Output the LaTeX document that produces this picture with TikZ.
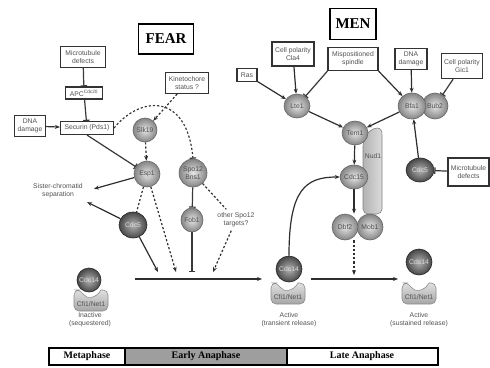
\documentclass[tikz,border=0pt]{standalone}
\usepackage{fontspec}
\setmainfont{Liberation Serif}
\setsansfont{Liberation Sans}
\usetikzlibrary{arrows.meta,shapes.geometric,calc}

\begin{document}
\begin{tikzpicture}[x=1pt,y=-1pt,
  lbl/.style={font=\sffamily\fontsize{6.8}{8}\selectfont, text=black!68, align=center},
  box/.style={lbl, draw=black!80, line width=1.1pt, fill=white, inner sep=1pt},
  prot/.style={ellipse, draw=black!60, line width=0.6pt, inner color=black!10, outer color=black!48,
    inner sep=0pt, font=\sffamily\fontsize{6.8}{7.4}\selectfont, text=black!70, align=center},
  darkprot/.style={prot, draw=black!85, inner color=black!30, outer color=black!72, text=white!85!black},
  title/.style={draw=black, line width=1.4pt, fill=white, font=\bfseries\fontsize{15}{15}\selectfont, inner sep=0pt},
  phasetxt/.style={font=\bfseries\fontsize{10}{10}\selectfont},
  act/.style={-{Stealth[length=5pt,width=4pt]}, line width=1.2pt, draw=black!82},
  inh/.style={-{Bar[width=6.5pt,line width=1.2pt]}, line width=1.2pt, draw=black!78},
  dsh/.style={dash pattern=on 2.2pt off 2pt},
  dline/.style={dsh, line width=1.2pt, draw=black!80},
  cfinet/.pic={
    \path[draw=black!45, line width=0.6pt, top color=black!12, bottom color=black!35]
      (0,21) [rounded corners=5pt] -- (-17,21) -- (-17,0) -- (-10,0) [sharp corners]
      .. controls (-5,9) and (5,9) .. (10,0) [rounded corners=5pt] -- (17,0) -- (17,21) -- cycle;
    \node[lbl] (-lab) at (0,14) {Cfi1/Net1};
  },
]
\useasboundingbox (0,0) rectangle (490,367);

% ---------- titles ----------
\node[title, minimum width=55pt, minimum height=30pt] (fear) at (166,39) {FEAR};
\node[title, minimum width=46pt, minimum height=31pt] (men) at (353,24) {MEN};

% ---------- FEAR network ----------
\node[box, minimum width=45pt, minimum height=21pt] (mtdA) at (83,57) {Microtubule\\defects};
\node[box, minimum width=37pt, minimum height=12pt] (apc) at (84,93) {APC\textsuperscript{Cdc20}};
\node[box, minimum width=31pt, minimum height=21pt] (dnaA) at (30,126) {DNA\\damage};
\node[box, minimum width=53pt, minimum height=13pt] (sec) at (87,128) {Securin (Pds1)};
\node[box, minimum width=43pt, minimum height=21pt] (kin) at (187,83) {Kinetochore\\status ?};

\node[prot, minimum width=22pt, minimum height=24pt] (slk) at (145,130) {Slk19};
\node[prot, minimum width=26pt, minimum height=26pt] (esp) at (147,174) {Esp1};
\node[prot, minimum width=28pt, minimum height=28pt] (spo) at (193,173) {Spo12\\Bns1};
\node[darkprot, minimum width=28pt, minimum height=26pt] (cdcA) at (133,225) {Cdc5};
\node[prot, minimum width=22pt, minimum height=24pt] (fob) at (192,220) {Fob1};
\node[lbl] (oth) at (236,220) {other Spo12\\targets?};
\node[lbl] (sis) at (58,191) {Sister-chromatid\\separation};

% common line into Cdc14 release
\coordinate (l0) at (135,279);
\coordinate (l1) at (262,279);
\coordinate (t1) at (158,272);
\coordinate (t2) at (176,272);
\coordinate (t3) at (192,272);
\coordinate (t4) at (213,272);

\draw[inh] (mtdA) -- (apc);
\draw[inh] (apc) -- (sec);
\draw[act] (dnaA) -- (sec);
\draw[inh] (sec.south) -- (esp);
\draw[inh, dsh] (sec.east) .. controls (140,96) and (187,92) .. (spo.north);
\draw[act, dsh] (kin) -- (slk);
\draw[act, dsh] (slk) -- (esp);
\draw[act, shorten >=8pt] (esp) -- (sis.east);
\draw[act, shorten >=1pt] (cdcA) -- (sis.south east);
\draw[dline] (esp) -- (cdcA);
\draw[act, dsh] (esp) -- (t2);
\draw[act] (cdcA) -- (t1);
\draw[inh] (spo) -- (fob);
\draw[dline] (spo) -- (oth);
\draw[inh] (fob) -- (t3);
\draw[act, dsh] (oth) -- (t4);
\draw[act] (l0) -- (l1);

% ---------- MEN network ----------
\node[box, minimum width=20pt, minimum height=13pt] (ras) at (247,75) {Ras};
\node[box, minimum width=42pt, minimum height=24pt] (cla) at (293,54) {Cell polarity\\Cla4};
\node[box, minimum width=50pt, minimum height=23pt] (mis) at (353,59) {Mispositioned\\spindle};
\node[box, minimum width=32pt, minimum height=21pt] (dnaB) at (411,59) {DNA\\damage};
\node[box, minimum width=41pt, minimum height=25pt] (gic) at (462,66) {Cell polarity\\Gic1};
\node[box, minimum width=41pt, minimum height=28pt] (mtdB) at (468.5,172) {Microtubule\\defects};

% Nud1 scaffold
\path[draw=black!50, line width=0.6pt, left color=black!30, right color=black!14]
  (363,142) .. controls (366,134) and (372,128) .. (377,128)
  .. controls (381,128) and (382,131) .. (382,135)
  [rounded corners=5pt] -- (382,214) -- (363,214) -- cycle;
\node[lbl] (nud) at (373,156) {Nud1};

\node[prot, minimum width=26pt, minimum height=24pt] (lte) at (297,106) {Lte1};
\node[prot, minimum width=26pt, minimum height=26pt] (bub) at (435,106) {Bub2};
\node[prot, minimum width=28pt, minimum height=26pt] (bfa) at (412,106) {Bfa1};
\node[prot, minimum width=26pt, minimum height=24pt] (tem) at (355,133) {Tem1};
\node[prot, minimum width=26pt, minimum height=24pt] (cdcf) at (354,177) {Cdc15};
\node[prot, minimum width=26pt, minimum height=26pt] (mob) at (370,227) {Mob1};
\node[prot, minimum width=26pt, minimum height=26pt] (dbf) at (345,227) {Dbf2};
\node[darkprot, minimum width=28pt, minimum height=24pt] (cdcB) at (420,170) {Cdc5};

\coordinate (m1) at (354,275);

\draw[act] (ras) -- (lte);
\draw[act] (cla) -- (lte);
\draw[inh] (mis.south west) -- (lte);
\draw[act] (mis.south east) -- (bfa);
\draw[act] (dnaB) -- (bfa);
\draw[inh] (gic) -- (bub);
\draw[act] (lte) -- (tem);
\draw[act] (bfa) -- (tem);
\draw[act] (tem) -- (cdcf);
\draw[act] (cdcf) -- (cdcf |- dbf.north);
\draw[act, dsh] (cdcf |- dbf.south) -- (m1);
\draw[act] (cdcB) -- (bfa);
\draw[inh] (mtdB) -- (cdcB);

% ---------- Cdc14 states ----------
\pic (satA) at (91,290) {cfinet};
\node[darkprot, circle, minimum size=24pt] (ciA) at (89,280) {Cdc14};
\node[lbl] (inA) at (90,320) {Inactive\\(sequestered)};

\pic (satB) at (288,283) {cfinet};
\node[darkprot, circle, minimum size=26pt] (ciB) at (289,269) {Cdc14};
\node[lbl] (inB) at (289,320) {Active\\(transient release)};

\pic (satC) at (419,283) {cfinet};
\node[darkprot, circle, minimum size=26pt] (ciC) at (419,262) {Cdc14};
\node[lbl] (inC) at (419,320) {Active\\(sustained release)};

\coordinate (g0) at (311,279);
\coordinate (g1) at (398,279);
\draw[act] (g0) -- (g1);
\draw[act] (ciB.north) .. controls (289,190) and (305,177) .. (cdcf.west);

% ---------- phase bar ----------
\fill[black!38] (125,348) rectangle (287,365);
\draw[line width=1.4pt] (49,348) rectangle (438,365);
\draw[line width=1.4pt] (125,348) -- (125,365);
\draw[line width=1.4pt] (287,348) -- (287,365);
\node[phasetxt] (ph1) at (87,356.5) {Metaphase};
\node[phasetxt] (ph2) at (206,356.5) {Early Anaphase};
\node[phasetxt] (ph3) at (362,356.5) {Late Anaphase};
\end{tikzpicture}
\end{document}
